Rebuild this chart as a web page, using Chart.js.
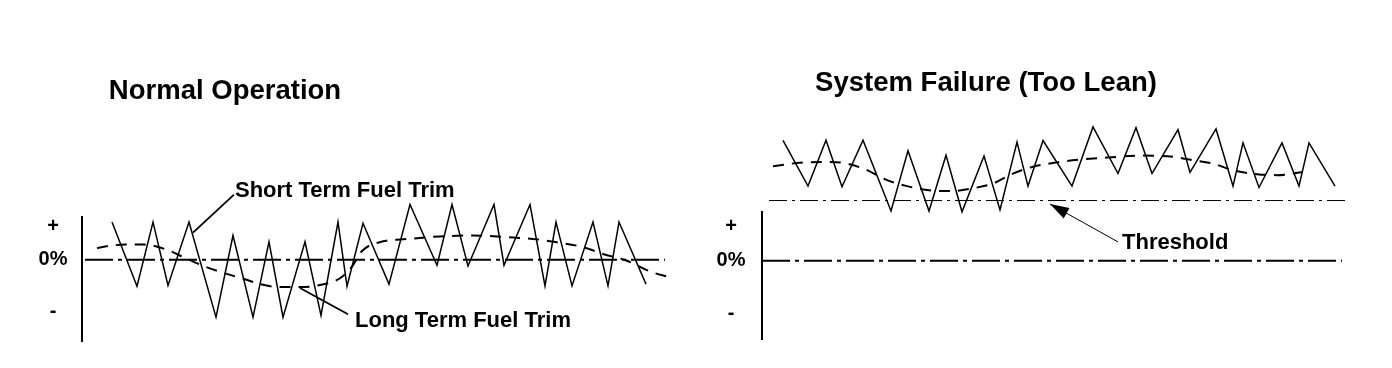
<!DOCTYPE html>
<html>
<head>
<meta charset="utf-8">
<script src="https://cdn.jsdelivr.net/npm/chart.js@4"></script>
<style>
body { margin: 0; background: #fff; }
#wrap { position: relative; width: 1392px; height: 368px; }
canvas { position: absolute; top: 0; }
#normal { left: 0; }
#failure { left: 696px; }
</style>
</head>
<body>
<div id="wrap">
	<canvas id="normal" width="696" height="368"></canvas>
	<canvas id="failure" width="696" height="368"></canvas>
</div>
<script>
// time in s, trim in %
const normalShortTime = [3.0, 5.5, 7.1, 8.6, 10.7, 13.4, 15.1, 17.1, 18.7, 20.1, 22.3, 23.9, 25.6, 26.5, 28.1, 30.7, 32.8, 35.5, 37.0, 38.6, 41.2, 42.2, 44.8, 46.3, 47.4, 49.0, 51.1, 52.6, 53.7, 56.4];
const normalShortTrim = [9.7, -6.8, 9.7, -6.6, 9.7, -14.75, 6.25, -14.75, 4.6, -14.75, 4.6, -14.3, 9.7, -6.8, 9.4, -6.25, 14.2, -1.4, 14.2, -1.6, 14.2, -1.4, 14.2, -6.7, 9.7, -6.7, 9.7, -6.7, 9.7, -6.25];

const normalLongTime = [1.5, 2.8, 4.3, 6.3, 8.3, 10.3, 12.3, 14.3, 16.3, 17.8, 19.8, 21.8, 23.8, 25.8, 27.0, 28.0, 30.1, 32.1, 35.8, 39.1, 43.1, 45.5, 47.5, 50.1, 52.1, 54.5, 56.8, 58.8];
const normalLongTrim = [3.0, 3.6, 3.9, 3.9, 2.75, 0.5, -1.75, -3.5, -5.0, -6.25, -7.0, -7.0, -6.5, -4.75, -1.75, 2.25, 4.75, 5.25, 6.0, 6.25, 5.75, 5.25, 4.5, 3.25, 1.5, -0.25, -3.0, -4.5];

const failShortTime = [2.1, 4.6, 6.4, 8.0, 10.1, 12.9, 14.6, 16.7, 18.4, 20.0, 22.2, 23.8, 25.5, 26.6, 28.1, 31.0, 33.1, 35.6, 37.4, 39.0, 41.6, 42.8, 45.4, 47.1, 48.1, 49.7, 52.0, 53.7, 54.7, 57.3];
const failShortTrim = [30.25, 18.75, 30.25, 18.6, 30.25, 12.5, 27.6, 12.5, 26.5, 12.3, 26.3, 12.75, 29.8, 18.75, 30.2, 18.75, 33.6, 21.9, 33.4, 21.9, 32.9, 22.2, 33.1, 18.75, 29.6, 18.4, 29.6, 18.75, 29.6, 18.75];

const failLongTime = [1.1, 3.8, 6.5, 8.5, 10.5, 12.5, 14.5, 16.5, 19.1, 21.1, 23.1, 25.1, 27.1, 29.8, 31.8, 34.5, 37.8, 41.1, 43.1, 45.1, 47.1, 49.5, 51.5, 54.1];
const failLongTrim = [23.75, 24.6, 24.8, 24.4, 22.75, 20.25, 18.75, 17.75, 17.5, 18.2, 19.4, 21.9, 23.6, 24.8, 25.4, 25.9, 26.4, 26.1, 25.25, 24.4, 22.75, 21.75, 21.5, 22.3];

const thresholdTrim = 15.125;
const thresholdSpan = [0.7, 58.5];
const normalZeroSpan = [0.3, 58.3];
const failZeroSpan = [0, 58];

const yTickValues = [8.6, 0, -13.2];
const yTickLabels = ['+', '0%', '-'];

const FONT = '"Liberation Sans", Arial, sans-serif';

function toPoints(times, values) {
	return times.map((t, i) => ({ x: t, y: values[i] }));
}

function flatLine(span, level) {
	return [{ x: span[0], y: level }, { x: span[1], y: level }];
}

// titles, labels and leader lines, placed in chart units
const notesPlugin = {
	id: 'notes',
	afterDraw(chart, args, opts) {
		const ctx = chart.ctx;
		const xs = chart.scales.x, ys = chart.scales.y;
		const px = p => [xs.getPixelForValue(p[0]), ys.getPixelForValue(p[1])];
		ctx.save();
		ctx.strokeStyle = '#000';
		ctx.fillStyle = '#000';
		(opts.leaders || []).forEach(l => {
			const a = px(l.from), b = px(l.to);
			ctx.lineWidth = l.width;
			ctx.beginPath();
			ctx.moveTo(a[0], a[1]);
			ctx.lineTo(b[0], b[1]);
			ctx.stroke();
			if (l.arrow) {
				let dx = a[0] - b[0], dy = a[1] - b[1];
				const len = Math.hypot(dx, dy);
				dx /= len; dy /= len;
				const bx = a[0] - dx * 19, by = a[1] - dy * 19;
				ctx.beginPath();
				ctx.moveTo(a[0], a[1]);
				ctx.lineTo(bx - dy * 6, by + dx * 6);
				ctx.lineTo(bx + dy * 6, by - dx * 6);
				ctx.closePath();
				ctx.fill();
			}
		});
		(opts.labels || []).forEach(l => {
			const p = px(l.at);
			ctx.font = 'bold ' + l.size + 'px ' + FONT;
			ctx.textAlign = l.align;
			ctx.textBaseline = 'alphabetic';
			ctx.fillText(l.text, p[0], p[1]);
		});
		ctx.restore();
	}
};

function createPanel(canvasId, panel) {
	const area = panel.area;
	const datasets = [
		{
			data: flatLine(panel.zeroSpan, 0),
			borderColor: '#000',
			borderWidth: 2,
			borderDash: [28, 5, 4, 5],
		},
		{
			data: panel.longTerm,
			borderColor: '#000',
			borderWidth: 2,
			borderDash: [11, 8],
			cubicInterpolationMode: 'monotone',
		},
		{
			data: panel.shortTerm,
			borderColor: '#000',
			borderWidth: 1.5,
			tension: 0,
		}
	];
	if (panel.threshold) {
		datasets.push({
			data: panel.threshold,
			borderColor: '#000',
			borderWidth: 1,
			borderDash: [18, 5, 3, 5],
		});
	}
	datasets.forEach(d => { d.pointRadius = 0; d.clip = false; d.fill = false; });

	return new Chart(document.getElementById(canvasId), {
		type: 'line',
		data: { datasets: datasets },
		options: {
			responsive: false,
			animation: false,
			devicePixelRatio: 1,
			layout: {
				padding: { top: area.top, bottom: 368 - area.bottom, left: 0, right: 696 - area.right }
			},
			plugins: {
				legend: { display: false },
				tooltip: { enabled: false },
				notes: panel.notes
			},
			scales: {
				x: { type: 'linear', min: 0, max: 60, display: false },
				y: {
					type: 'linear',
					position: 'left',
					min: panel.yMin,
					max: panel.yMax,
					bounds: 'data',
					grid: { display: false, drawTicks: false },
					border: { display: true, color: '#000', width: 2 },
					ticks: {
						autoSkip: false,
						padding: panel.tickPad,
						crossAlign: 'center',
						color: '#000',
						font: { family: FONT, size: 20, weight: 'bold' },
						callback: (v, i) => yTickLabels[i]
					},
					afterBuildTicks: s => { s.ticks = yTickValues.map(v => ({ value: v })); },
					afterFit: s => { s.width = area.left; }
				}
			}
		},
		plugins: [notesPlugin]
	});
}

createPanel('normal', {
	area: { left: 82, right: 682, top: 217, bottom: 345 },
	yMin: -21, yMax: 11,
	tickPad: 14.5,
	zeroSpan: normalZeroSpan,
	shortTerm: toPoints(normalShortTime, normalShortTrim),
	longTerm: toPoints(normalLongTime, normalLongTrim),
	notes: {
		labels: [
			{ text: 'Normal Operation', at: [14.3, 41.25], size: 27.5, align: 'center' },
			{ text: 'Short Term Fuel Trim', at: [15.3, 16.25], size: 22, align: 'left' },
			{ text: 'Long Term Fuel Trim', at: [27.3, -17.25], size: 22, align: 'left' }
		],
		leaders: [
			{ from: [11.1, 7.0], to: [15.2, 16.75], width: 1.8 },
			{ from: [21.8, -7.25], to: [26.6, -14.0], width: 1.8 }
		]
	}
});

createPanel('failure', {
	area: { left: 66, right: 666, top: 212, bottom: 340 },
	yMin: -19.75, yMax: 12.25,
	tickPad: 16.5,
	zeroSpan: failZeroSpan,
	shortTerm: toPoints(failShortTime, failShortTrim),
	longTerm: toPoints(failLongTime, failLongTrim),
	threshold: flatLine(thresholdSpan, thresholdTrim),
	notes: {
		labels: [
			{ text: 'System Failure (Too Lean)', at: [22.4, 42.5], size: 27.5, align: 'center' },
			{ text: 'Threshold', at: [36.0, 3.0], size: 22, align: 'left' }
		],
		leaders: [
			{ from: [28.8, 14.25], to: [35.6, 4.75], width: 1, arrow: true }
		]
	}
});
</script>
</body>
</html>
